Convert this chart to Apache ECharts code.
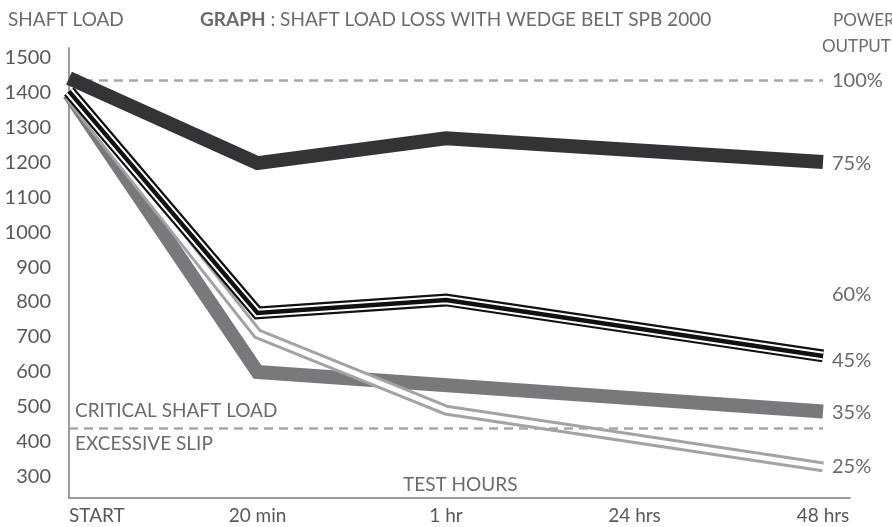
<!DOCTYPE html>
<html>
<head>
<meta charset="utf-8">
<script src="https://cdn.jsdelivr.net/npm/echarts@6/dist/echarts.min.js"></script>
<style>html,body{margin:0;padding:0;background:#fff}#c{width:892px;height:527px}</style>
</head>
<body>
<div id="c"></div>
<script>
const categories = ['START', '20 min', '1 hr', '24 hrs', '48 hrs'];
const load75 = [1440, 1197, 1268, null, 1200];
const load45 = [1402, 769, 806, null, 646];
const load35 = [1395, 600, null, null, 487];
const load25 = [1390, 709, 491, null, 329];
const yTicks = [300, 400, 500, 600, 700, 800, 900, 1000, 1100, 1200, 1300, 1400, 1500];
const powerLevels = [1434, 1197, 820, 634, 483, 329];
const powerLabels = ['100%', '75%', '60%', '45%', '35%', '25%'];
const ratedLoad = 1434;
const criticalLoad = 440;

const FONT = 'Lato';
const TXT = '#6a6a6d';
const toPts = arr => arr.map((v, i) => [i, v]).filter(d => d[1] != null);

function lineSeries(name, data, color, width, z) {
  return {
    name, type: 'line', data: toPts(data), symbol: 'none', connectNulls: true,
    z, silent: true, animation: false,
    lineStyle: { color, width, join: 'miter', cap: 'butt' }
  };
}

const chart = echarts.init(document.getElementById('c'));
chart.setOption({
  animation: false,
  grid: { left: 69, right: 42, top: 48, bottom: 29, containLabel: false },
  xAxis: {
    type: 'value', min: 0, max: 4.143, interval: 1,
    axisLine: { show: true, lineStyle: { color: '#9a9a9c', width: 2 } },
    axisTick: { show: false }, splitLine: { show: false },
    axisLabel: {
      margin: 8, fontFamily: FONT, fontSize: 19, color: '#58585b',
      alignMinLabel: 'left',
      formatter: v => (Number.isInteger(v) && categories[v]) ? categories[v] : ''
    }
  },
  yAxis: [{
    type: 'value', min: 240, max: 1526,
    axisLine: { show: true, lineStyle: { color: '#9a9a9c', width: 2 } },
    axisTick: { show: false }, splitLine: { show: false },
    axisLabel: { customValues: yTicks, margin: 18, fontFamily: FONT, fontSize: 20, color: '#58585b',
      formatter: v => String(v) }
  }, {
    type: 'value', min: 240, max: 1526, position: 'right', offset: -27,
    axisLine: { show: false }, axisTick: { show: false }, splitLine: { show: false },
    axisLabel: {
      customValues: powerLevels, margin: 9, align: 'left', fontFamily: FONT, fontSize: 20, color: TXT,
      formatter: v => powerLabels[powerLevels.indexOf(v)] || ''
    }
  }],
  series: [
    {
      type: 'line', data: [], symbol: 'none', z: 1, silent: true,
      markLine: {
        symbol: 'none', silent: true, label: { show: false },
        lineStyle: { type: [9, 6], color: '#a6a6a8', width: 2.5 },
        data: [
          [{ coord: [0, ratedLoad] }, { coord: [4, ratedLoad] }],
          [{ coord: [0, criticalLoad] }, { coord: [4, criticalLoad] }]
        ]
      }
    },
    lineSeries('35%', load35, '#79797c', 14, 2),
    lineSeries('25% outer', load25, '#a3a3a5', 11, 3),
    lineSeries('25% inner', load25, '#ffffff', 5, 4),
    lineSeries('45% outer', load45, '#111111', 13, 5),
    lineSeries('45% gap', load45, '#ffffff', 8.5, 6),
    lineSeries('45% core', load45, '#111111', 4.5, 7),
    lineSeries('75%', load75, '#343336', 14, 8)
  ],
  graphic: [
    { type: 'text', left: 8, top: 10, style: { text: 'SHAFT LOAD', font: '19px ' + FONT, fill: TXT } },
    { type: 'text', left: 200, top: 10, style: {
      text: '{b|GRAPH} : SHAFT LOAD LOSS WITH WEDGE BELT SPB 2000',
      font: '19px ' + FONT, fill: TXT,
      rich: { b: { fontWeight: 'bold', fontFamily: FONT, fontSize: 19, fill: TXT } }
    } },
    { type: 'text', left: 833, top: 12, style: { text: 'POWER', font: '17px ' + FONT, fill: TXT } },
    { type: 'text', left: 822, top: 38, style: { text: 'OUTPUT', font: '17px ' + FONT, fill: TXT } },
    { type: 'text', left: 75, top: 401, style: { text: 'CRITICAL SHAFT LOAD', font: '19px ' + FONT, fill: TXT } },
    { type: 'text', left: 75, top: 434, style: { text: 'EXCESSIVE SLIP', font: '19px ' + FONT, fill: TXT } },
    { type: 'text', left: 403, top: 475, style: { text: 'TEST HOURS', font: '19px ' + FONT, fill: TXT } }
  ]
});
</script>
</body>
</html>
